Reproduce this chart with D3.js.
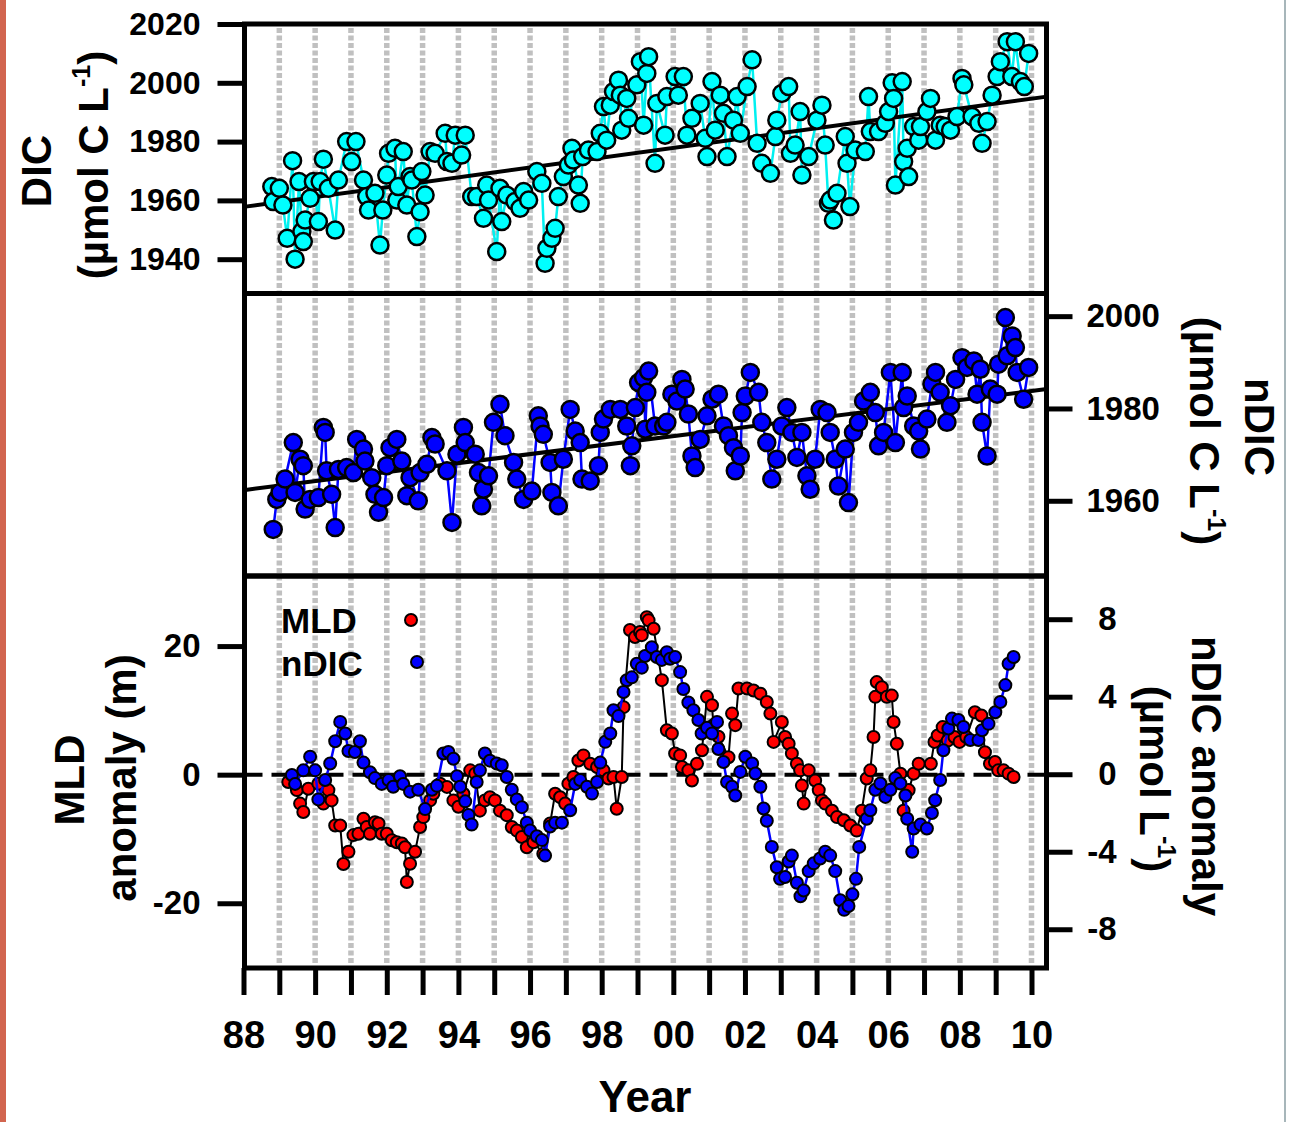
<!DOCTYPE html>
<html><head><meta charset="utf-8">
<script src="https://cdn.jsdelivr.net/npm/d3@7/dist/d3.min.js"></script>
<style>html,body{margin:0;padding:0;background:#fff;} svg{display:block;} text{font-family:"Liberation Sans",Arial,sans-serif;font-weight:bold;}</style>
</head><body><svg id="c" width="1292" height="1122"></svg>
<script>
// ---------------- DATA ----------------
const xTickYears = d3.range(1988, 2011);
const xLabelYears = [1988,1990,1992,1994,1996,1998,2000,2002,2004,2006,2008,2010];
const dicTicks = [1940,1960,1980,2000,2020];
const ndicTicks = [1960,1980,2000];
const mldTicks = [-20,0,20];
const anomTicks = [-8,-4,0,4,8];

const dicYear = [1988.79,1988.83,1989.00,1989.10,1989.22,1989.37,1989.44,1989.55,1989.63,1989.67,1989.72,1989.86,1989.95,1990.09,1990.14,1990.23,1990.37,1990.56,1990.65,1990.88,1991.02,1991.14,1991.35,1991.44,1991.49,1991.67,1991.81,1991.89,1992.00,1992.05,1992.23,1992.28,1992.32,1992.46,1992.56,1992.65,1992.70,1992.84,1992.93,1992.98,1993.07,1993.21,1993.35,1993.63,1993.68,1993.82,1993.91,1994.09,1994.19,1994.37,1994.51,1994.70,1994.79,1994.84,1995.07,1995.16,1995.21,1995.35,1995.58,1995.72,1995.82,1995.96,1996.19,1996.33,1996.42,1996.47,1996.61,1996.70,1996.79,1996.93,1997.07,1997.17,1997.21,1997.35,1997.40,1997.47,1997.63,1997.87,1997.96,1998.05,1998.14,1998.24,1998.33,1998.47,1998.52,1998.56,1998.70,1998.75,1998.98,1999.08,1999.17,1999.26,1999.31,1999.49,1999.54,1999.77,1999.82,2000.05,2000.14,2000.28,2000.38,2000.52,2000.75,2000.89,2000.94,2001.08,2001.17,2001.31,2001.40,2001.50,2001.68,2001.78,2001.87,2002.06,2002.20,2002.34,2002.47,2002.71,2002.85,2002.89,2003.03,2003.22,2003.27,2003.40,2003.54,2003.59,2003.78,2004.01,2004.15,2004.24,2004.33,2004.38,2004.47,2004.57,2004.80,2004.85,2004.93,2005.08,2005.36,2005.45,2005.50,2005.73,2005.92,2006.01,2006.11,2006.15,2006.20,2006.39,2006.43,2006.53,2006.57,2006.71,2006.85,2006.90,2007.08,2007.18,2007.32,2007.45,2007.59,2007.74,2007.92,2008.06,2008.11,2008.34,2008.53,2008.62,2008.76,2008.90,2009.04,2009.13,2009.32,2009.45,2009.55,2009.69,2009.80,2009.92];
const dicValue = [1964.7,1959.6,1964.1,1958.4,1947.1,1973.5,1940.0,1966.4,1949.4,1946.0,1953.3,1960.7,1966.4,1952.8,1966.4,1974.0,1964.1,1949.9,1966.9,1980.0,1973.2,1980.0,1966.9,1961.3,1956.7,1962.4,1944.8,1956.7,1968.6,1976.0,1977.7,1960.1,1964.7,1976.6,1958.4,1968.1,1966.9,1947.7,1956.1,1969.8,1961.8,1976.6,1976.0,1982.8,1973.2,1972.6,1982.2,1975.4,1982.2,1961.3,1961.3,1953.9,1965.2,1960.1,1942.6,1964.1,1952.8,1961.8,1959.6,1957.3,1963.0,1960.1,1969.8,1965.8,1938.6,1943.7,1947.1,1950.5,1961.3,1968.1,1972.0,1977.7,1973.7,1965.2,1959.0,1974.9,1977.1,1976.6,1982.8,1991.9,1980.5,1992.4,1997.0,2000.9,1995.8,1983.9,1994.7,1987.9,1999.3,2007.2,1985.6,2003.2,2008.9,1972.6,1993.0,1982.2,1995.3,2002.1,1995.8,2002.1,1982.2,1987.9,1993.0,1981.1,1974.9,2000.4,1983.9,1995.8,1989.6,1974.9,1987.3,1995.3,1982.8,1998.7,2007.8,1979.4,1972.6,1969.2,1981.7,1987.3,1996.4,1998.7,1976.0,1978.8,1990.2,1968.6,1974.9,1987.3,1992.4,1978.8,1959.0,1960.1,1953.3,1962.4,1981.7,1972.6,1957.9,1977.1,1976.6,1995.3,1983.4,1983.4,1986.2,1990.2,2000.0,1994.7,1965.2,2000.4,1973.2,1977.7,1968.1,1985.1,1980.5,1985.1,1990.2,1994.7,1980.5,1985.6,1985.1,1983.9,1988.5,2001.5,1999.3,1988.5,1986.2,1979.4,1986.8,1995.8,2002.1,2007.2,2014.0,2002.1,2014.0,2000.4,1998.7,2010.0];

const ndicYear = [1988.83,1988.93,1989.02,1989.16,1989.39,1989.44,1989.58,1989.67,1989.72,1989.86,1990.09,1990.23,1990.28,1990.32,1990.46,1990.56,1990.65,1990.88,1991.07,1991.16,1991.35,1991.39,1991.58,1991.67,1991.77,1991.91,1992.00,1992.09,1992.28,1992.42,1992.56,1992.65,1992.88,1992.93,1993.12,1993.26,1993.35,1993.68,1993.82,1993.96,1994.14,1994.19,1994.47,1994.56,1994.65,1994.70,1994.84,1994.98,1995.16,1995.30,1995.54,1995.63,1995.82,1996.05,1996.23,1996.28,1996.37,1996.56,1996.61,1996.79,1996.93,1997.12,1997.26,1997.40,1997.45,1997.68,1997.91,1997.96,1998.05,1998.24,1998.52,1998.70,1998.80,1998.84,1998.94,1999.03,1999.17,1999.22,1999.26,1999.31,1999.49,1999.73,1999.82,1999.96,2000.10,2000.24,2000.33,2000.42,2000.52,2000.61,2000.75,2000.94,2001.08,2001.26,2001.40,2001.54,2001.68,2001.73,2001.87,2001.92,2002.01,2002.15,2002.38,2002.47,2002.61,2002.75,2002.89,2003.03,2003.17,2003.31,2003.45,2003.59,2003.73,2003.82,2003.96,2004.10,2004.29,2004.38,2004.52,2004.61,2004.80,2004.89,2005.03,2005.17,2005.31,2005.50,2005.64,2005.73,2005.87,2006.06,2006.20,2006.39,2006.43,2006.53,2006.71,2006.85,2006.90,2007.08,2007.22,2007.32,2007.45,2007.64,2007.74,2007.88,2008.06,2008.20,2008.39,2008.48,2008.57,2008.62,2008.76,2008.85,2009.04,2009.08,2009.27,2009.32,2009.46,2009.55,2009.60,2009.78,2009.92];
const ndicValue = [1953.8,1960.3,1961.8,1964.7,1972.6,1961.8,1969.0,1967.6,1958.2,1960.3,1960.7,1975.9,1974.8,1966.5,1961.4,1954.2,1966.8,1967.2,1966.1,1973.3,1971.2,1968.6,1965.0,1961.4,1957.5,1960.7,1967.6,1971.5,1973.3,1968.6,1961.1,1965.0,1960.0,1966.1,1967.9,1973.7,1972.3,1966.5,1955.3,1970.1,1975.9,1972.6,1970.1,1966.1,1958.9,1962.5,1965.4,1977.0,1980.9,1974.1,1968.3,1964.7,1960.3,1962.1,1978.4,1976.2,1974.4,1968.3,1961.8,1958.9,1969.0,1979.8,1975.1,1972.6,1964.7,1964.3,1967.6,1974.8,1977.7,1979.8,1979.8,1976.2,1967.6,1971.9,1980.2,1985.6,1986.7,1975.5,1983.5,1988.1,1976.2,1976.2,1977.0,1983.1,1981.6,1986.3,1984.2,1978.8,1969.7,1967.2,1973.3,1978.4,1982.0,1983.1,1976.2,1974.1,1971.5,1966.5,1969.7,1979.1,1982.7,1987.8,1983.5,1977.0,1972.6,1964.7,1969.0,1976.2,1980.2,1974.8,1969.4,1974.8,1965.4,1962.5,1969.0,1979.8,1979.1,1974.8,1969.0,1963.2,1971.2,1959.6,1974.8,1977.0,1981.6,1983.5,1979.1,1971.9,1974.8,1987.8,1972.6,1987.8,1980.2,1982.7,1976.2,1975.1,1971.2,1977.7,1985.3,1987.8,1983.5,1977.0,1980.6,1986.3,1991.0,1988.9,1990.3,1983.1,1988.5,1977.0,1969.7,1984.2,1983.1,1989.6,1999.7,1991.4,1995.7,1993.2,1987.8,1982.0,1988.9];

const dicTrendYear = [1988, 2010.43];
const dicTrendValue = [1957.8, 1995.3];
const ndicTrendYear = [1988, 2010.43];
const ndicTrendValue = [1962.3, 1984.2];

const mldYear = [1989.25,1989.49,1989.58,1989.67,1989.81,1990.09,1990.23,1990.37,1990.46,1990.56,1990.70,1990.79,1990.93,1991.07,1991.21,1991.35,1991.44,1991.53,1991.67,1991.77,1991.86,1992.00,1992.14,1992.28,1992.42,1992.51,1992.56,1992.65,1992.79,1992.93,1993.02,1993.21,1993.30,1993.49,1993.68,1993.86,1994.00,1994.14,1994.33,1994.47,1994.60,1994.74,1994.88,1995.02,1995.16,1995.35,1995.49,1995.63,1995.77,1995.91,1996.10,1996.37,1996.56,1996.70,1996.84,1996.98,1997.07,1997.21,1997.35,1997.49,1997.68,1997.87,1998.05,1998.19,1998.33,1998.42,1998.56,1998.61,1998.79,1998.93,1999.07,1999.12,1999.26,1999.31,1999.45,1999.68,1999.82,1999.96,2000.05,2000.19,2000.24,2000.42,2000.52,2000.66,2000.80,2000.94,2001.08,2001.12,2001.26,2001.54,2001.64,2001.73,2001.82,2002.06,2002.24,2002.43,2002.61,2002.71,2002.80,2003.03,2003.12,2003.22,2003.31,2003.45,2003.54,2003.59,2003.64,2003.78,2003.96,2004.06,2004.15,2004.24,2004.43,2004.57,2004.76,2004.94,2005.12,2005.26,2005.40,2005.50,2005.59,2005.64,2005.68,2005.82,2005.96,2006.10,2006.15,2006.24,2006.34,2006.43,2006.57,2006.71,2006.85,2007.19,2007.29,2007.38,2007.52,2007.66,2007.85,2007.99,2008.18,2008.42,2008.60,2008.70,2008.84,2008.98,2009.07,2009.22,2009.36,2009.50];
const mldValue = [-1.15,-2.4,-4.5,-5.8,-2.2,-1.4,-4.5,-2.4,-4.0,-7.9,-7.9,-13.9,-12.0,-9.4,-9.2,-6.85,-8.15,-9.2,-7.4,-7.6,-9.2,-9.2,-10.2,-10.5,-10.7,-11.3,-16.7,-13.85,-12.0,-8.15,-6.6,-4.0,-2.96,-1.4,-1.9,-4.0,-5.0,-2.96,0.67,0.16,-5.6,-4.0,-3.5,-4.0,-5.6,-6.3,-8.15,-8.7,-9.7,-11.3,-10.5,-12.3,-7.6,-2.96,-3.5,-4.5,-1.4,-0.37,2.2,3.0,1.7,1.2,0.67,-0.6,-0.37,-5.3,-0.37,10.5,22.5,21.4,22.2,21.7,24.5,24.0,22.7,14.7,6.9,6.4,3.3,3.0,1.2,0.67,-0.9,1.7,3.8,12.1,10.8,7.7,5.9,2.7,9.5,7.7,13.4,13.4,13.1,12.6,11.3,9.5,5.1,8.2,5.85,4.8,3.3,1.7,0.67,-1.7,-4.5,0.67,-0.9,-2.4,-4.0,-4.5,-5.6,-6.6,-7.1,-7.9,-8.7,-5.6,-0.6,0.67,5.85,12.1,14.4,13.6,12.1,12.3,8.2,4.8,0.16,-5.6,-2.4,0.16,1.7,1.7,5.1,6.1,7.4,5.3,5.85,5.1,5.85,9.7,9.2,3.5,1.7,1.96,0.67,0.67,0.16,-0.37];

const anomYear = [1989.35,1989.44,1989.67,1989.86,1990.00,1990.09,1990.28,1990.42,1990.56,1990.70,1990.84,1990.93,1991.11,1991.25,1991.35,1991.53,1991.67,1991.86,1992.05,1992.18,1992.37,1992.46,1992.65,1992.88,1993.07,1993.26,1993.40,1993.58,1993.72,1993.86,1993.96,1994.05,1994.19,1994.28,1994.37,1994.51,1994.60,1994.74,1994.88,1995.07,1995.21,1995.35,1995.49,1995.63,1995.77,1995.91,1996.00,1996.19,1996.33,1996.42,1996.56,1996.70,1996.89,1997.12,1997.26,1997.40,1997.59,1997.73,1997.87,1997.96,1998.10,1998.24,1998.33,1998.47,1998.61,1998.70,1998.84,1998.98,1999.12,1999.21,1999.40,1999.54,1999.68,1999.82,1999.91,2000.05,2000.19,2000.28,2000.42,2000.56,2000.70,2000.79,2000.94,2001.08,2001.22,2001.26,2001.40,2001.50,2001.64,2001.73,2001.87,2002.01,2002.20,2002.29,2002.43,2002.52,2002.61,2002.75,2002.89,2002.98,2003.12,2003.22,2003.31,2003.45,2003.55,2003.64,2003.78,2003.92,2004.10,2004.24,2004.38,2004.52,2004.66,2004.77,2004.89,2005.00,2005.10,2005.19,2005.40,2005.50,2005.64,2005.78,2005.92,2006.06,2006.20,2006.34,2006.48,2006.53,2006.67,2006.71,2006.90,2007.08,2007.22,2007.31,2007.45,2007.54,2007.68,2007.78,2007.96,2008.10,2008.29,2008.52,2008.62,2008.80,2008.99,2009.13,2009.27,2009.36,2009.50];
const anomValue = [-0.04,-0.5,0.2,0.9,0.2,-1.3,-0.3,0.55,1.7,2.7,2.1,1.2,1.15,1.7,0.6,0.1,-0.2,-0.5,-0.3,-0.65,-0.1,-0.5,-0.9,-0.8,-1.8,-0.8,-0.6,1.07,1.15,0.8,-0.1,-0.65,-1.4,-2.1,-2.6,-0.4,0.2,1.07,0.7,0.55,0.46,-0.14,-0.8,-1.3,-1.7,-2.5,-2.9,-3.2,-3.4,-4.2,-2.7,-2.5,-2.5,-1.86,-0.5,-0.3,-0.65,-1.0,-0.4,0.6,1.67,2.1,3.3,3.0,4.24,4.85,5.0,5.7,5.5,6.1,6.55,6.05,5.9,6.3,5.96,6.05,5.27,4.4,3.7,3.3,2.8,2.1,2.4,2.1,2.7,1.3,0.63,-0.4,-0.65,-1.1,0.12,0.9,0.55,0.04,-0.65,-1.77,-2.4,-3.75,-4.8,-5.4,-5.3,-4.5,-4.2,-5.6,-6.3,-6.0,-5.0,-4.6,-4.35,-4.0,-4.2,-5.0,-6.5,-7.0,-6.8,-6.2,-5.4,-3.75,-2.3,-1.86,-0.8,-0.48,-1.17,-0.8,-0.2,-0.48,-1.1,-2.3,-4.0,-2.8,-2.6,-2.8,-2.0,-1.34,-0.3,1.24,2.36,2.87,2.8,2.44,1.77,1.77,2.27,2.6,3.2,3.73,4.6,5.7,6.05];

const legendLabels = ["MLD", "nDIC"];
const legendColors = ["#ff0000", "#0000ff"];

// ---------------- CHART ----------------
const W = 1292, H = 1122;
const svg = d3.select('#c');
const FONT = '"Liberation Sans", Arial, sans-serif';
svg.append('rect').attr('width', W).attr('height', H).attr('fill', '#fff');
svg.append('rect').attr('x', 0).attr('y', 0).attr('width', 6).attr('height', H).attr('fill', '#d2654f');
svg.append('rect').attr('x', 1284).attr('y', 0).attr('width', 2).attr('height', H).attr('fill', '#a7b6ba');

const L = 244.5, R = 1046.5;
const T1 = 24, B1 = 293.5, B2 = 576, B3 = 968;

const x = d3.scaleLinear().domain([1988, 2010]).range([243.5, 1031.5]);
const yTop = d3.scaleLinear().domain([1928.5, 2020]).range([293, 24]);
const yMid = d3.scaleLinear().domain([1943.7, 2004.8]).range([576, 294]);
const yMLD = d3.scaleLinear().domain([-30.07, 30.9]).range([968, 576]);
const yAnom = d3.scaleLinear().domain([-10, 10.23]).range([968, 576]);

const zip = (a, b) => a.map((t, i) => [t, b[i]]);
const fmt = d => String(d);

// gridlines
svg.append('g').selectAll('line').data(xTickYears.filter(d => d > 1988)).join('line')
  .attr('x1', d => x(d)).attr('x2', d => x(d)).attr('y1', 28).attr('y2', 964)
  .attr('stroke', '#c0c0c0').attr('stroke-width', 5.5).attr('stroke-dasharray', '5 2.5');

// zero dashed line
svg.append('line').attr('x1', L).attr('x2', R).attr('y1', yMLD(0)).attr('y2', yMLD(0))
  .attr('stroke', '#000').attr('stroke-width', 4).attr('stroke-dasharray', '18 9');

// ---- top panel DIC
const dicData = zip(dicYear, dicValue);
svg.append('path').datum(dicData)
  .attr('d', d3.line().x(d => x(d[0])).y(d => yTop(d[1])))
  .attr('fill', 'none').attr('stroke', '#00f0f0').attr('stroke-width', 2.5);
svg.append('path').datum(zip(dicTrendYear, dicTrendValue))
  .attr('d', d3.line().x(d => x(d[0])).y(d => yTop(d[1])))
  .attr('fill', 'none').attr('stroke', '#000').attr('stroke-width', 4);
svg.append('g').selectAll('circle').data(dicData).join('circle')
  .attr('cx', d => x(d[0])).attr('cy', d => yTop(d[1])).attr('r', 8.5)
  .attr('fill', '#00ffff').attr('stroke', '#000').attr('stroke-width', 2.5);

// ---- middle panel nDIC
const ndicData = zip(ndicYear, ndicValue);
svg.append('path').datum(ndicData)
  .attr('d', d3.line().x(d => x(d[0])).y(d => yMid(d[1])))
  .attr('fill', 'none').attr('stroke', '#0000ff').attr('stroke-width', 2.5);
svg.append('path').datum(zip(ndicTrendYear, ndicTrendValue))
  .attr('d', d3.line().x(d => x(d[0])).y(d => yMid(d[1])))
  .attr('fill', 'none').attr('stroke', '#000').attr('stroke-width', 4);
svg.append('g').selectAll('circle').data(ndicData).join('circle')
  .attr('cx', d => x(d[0])).attr('cy', d => yMid(d[1])).attr('r', 8.5)
  .attr('fill', '#0000ff').attr('stroke', '#000').attr('stroke-width', 2.5);

// ---- bottom panel
const mldData = zip(mldYear, mldValue);
const anomData = zip(anomYear, anomValue);
svg.append('path').datum(mldData)
  .attr('d', d3.line().x(d => x(d[0])).y(d => yMLD(d[1])))
  .attr('fill', 'none').attr('stroke', '#000').attr('stroke-width', 2);
svg.append('g').selectAll('circle').data(mldData).join('circle')
  .attr('cx', d => x(d[0])).attr('cy', d => yMLD(d[1])).attr('r', 6)
  .attr('fill', '#ff0000').attr('stroke', '#000').attr('stroke-width', 2);
svg.append('path').datum(anomData)
  .attr('d', d3.line().x(d => x(d[0])).y(d => yAnom(d[1])))
  .attr('fill', 'none').attr('stroke', '#0000ff').attr('stroke-width', 2.5);
svg.append('g').selectAll('circle').data(anomData).join('circle')
  .attr('cx', d => x(d[0])).attr('cy', d => yAnom(d[1])).attr('r', 6)
  .attr('fill', '#0000ff').attr('stroke', '#000').attr('stroke-width', 2);

// legend
const leg = svg.append('g');
legendLabels.forEach((lab, i) => {
  leg.append('text').attr('x', 281).attr('y', 633 + i * 43).attr('font-size', 35)
    .attr('fill', '#000').text(lab);
  leg.append('circle').attr('cx', 411 + i * 6).attr('cy', 620 + i * 42).attr('r', 6)
    .attr('fill', legendColors[i]).attr('stroke', '#000').attr('stroke-width', 2);
});

// frames
const frame = svg.append('g').attr('fill', 'none').attr('stroke', '#000').attr('stroke-width', 5);
[[T1, B1], [B1, B2], [B2, B3]].forEach(([a, b]) => {
  frame.append('rect').attr('x', L).attr('y', a).attr('width', R - L).attr('height', b - a);
});

function styleAxis(g, fs) {
  g.attr('font-family', FONT).attr('font-size', fs).attr('font-weight', 'bold');
  g.select('.domain').remove();
  g.selectAll('.tick line').attr('stroke', '#000').attr('stroke-width', 5);
  g.selectAll('.tick text').attr('fill', '#000');
}

// axes
styleAxis(svg.append('g').attr('transform', `translate(${L},0)`)
  .call(d3.axisLeft(yTop).tickValues(dicTicks).tickSize(27).tickPadding(17).tickFormat(fmt)), 32);
styleAxis(svg.append('g').attr('transform', `translate(${R},0)`)
  .call(d3.axisRight(yMid).tickValues(ndicTicks).tickSize(26).tickPadding(14).tickFormat(fmt)), 33);
styleAxis(svg.append('g').attr('transform', `translate(${L},0)`)
  .call(d3.axisLeft(yMLD).tickValues(mldTicks).tickSize(27).tickPadding(17).tickFormat(fmt)), 33);
const ra = svg.append('g').attr('transform', `translate(${R},0)`)
  .call(d3.axisRight(yAnom).tickValues(anomTicks).tickSize(26).tickPadding(14).tickFormat(fmt));
styleAxis(ra, 33);
ra.selectAll('.tick text').attr('text-anchor', 'end').attr('x', 70);

const xa = svg.append('g').attr('transform', `translate(0,${B3})`)
  .call(d3.axisBottom(x).tickValues(xTickYears).tickSize(27).tickPadding(26)
    .tickFormat(d => xLabelYears.includes(d) ? String(d % 100).padStart(2, '0') : ''));
styleAxis(xa, 38);

// titles
function rotLabel(cx, cy, angle, parts, fs) {
  const t = svg.append('text').attr('transform', `translate(${cx},${cy}) rotate(${angle})`)
    .attr('text-anchor', 'middle').attr('dy', '0.36em').attr('font-size', fs).attr('fill', '#000');
  parts.forEach(p => {
    const s = t.append('tspan').text(p.t);
    if (p.sup) s.attr('font-size', fs * 0.6).attr('dy', -fs * 0.42);
    if (p.after) s.attr('dy', fs * 0.42);
  });
}
rotLabel(36, 171, -90, [{t: 'DIC'}], 42);
rotLabel(93, 165, -90, [{t: '(µmol C L'}, {t: '-1', sup: true}, {t: ')', after: true}], 42);
rotLabel(69, 780, -90, [{t: 'MLD'}], 42);
rotLabel(121, 778, -90, [{t: 'anomaly (m)'}], 42);
rotLabel(1260, 427, 90, [{t: 'nDIC'}], 42);
rotLabel(1205, 431, 90, [{t: '(µmol C L'}, {t: '-1', sup: true}, {t: ')', after: true}], 42);
rotLabel(1207, 776, 90, [{t: 'nDIC anomaly'}], 42);
rotLabel(1155, 779, 90, [{t: '(µmol L'}, {t: '-1', sup: true}, {t: ')', after: true}], 42);

svg.append('text').attr('x', 645).attr('y', 1112).attr('text-anchor', 'middle')
  .attr('font-size', 44).attr('fill', '#000').text('Year');
</script></body></html>
